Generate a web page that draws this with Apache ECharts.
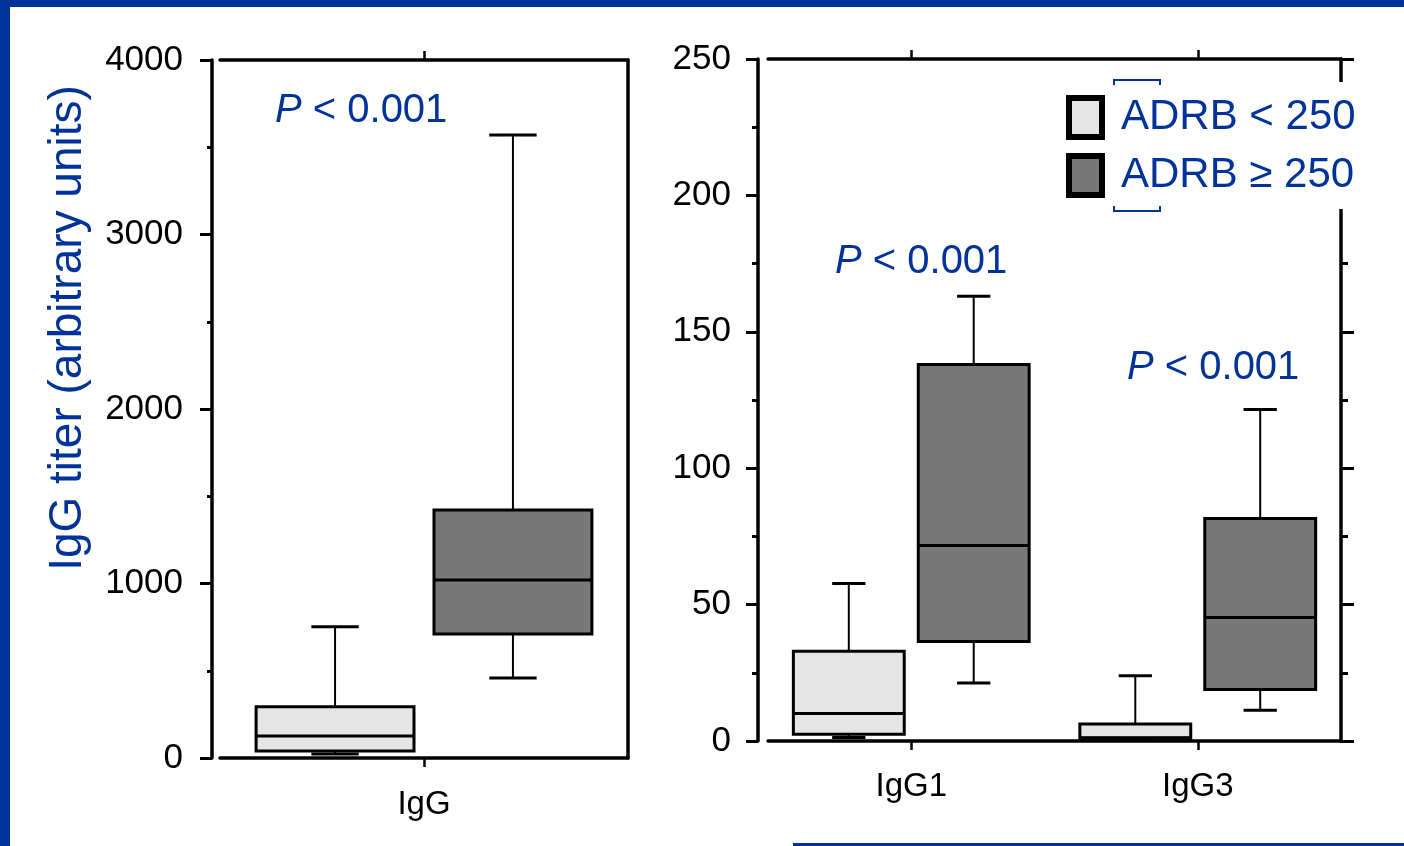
<!DOCTYPE html>
<html>
<head>
<meta charset="utf-8">
<script src="https://cdn.jsdelivr.net/npm/echarts@6/dist/echarts.min.js"></script>
<style>
  html, body { margin: 0; padding: 0; background: #fff; }
  #chart { width: 1404px; height: 846px; }
</style>
</head>
<body>
<div id="chart"></div>
<script>
// categories
const leftCategories = ['IgG']
const rightCategories = ['IgG1', 'IgG3']
const legendNames = ['ADRB < 250', 'ADRB ≥ 250']

// box values: [min, Q1, median, Q3, max]
const iggLow = [[23, 40, 126, 294, 752]]
const iggHigh = [[458, 711, 1020, 1421, 3570]]
const subclassLow = [[1.3, 2.5, 10.1, 32.9, 57.7], [0.5, 1.0, 1.2, 6.2, 23.9]]
const subclassHigh = [[21.3, 36.5, 71.7, 138, 163], [11.3, 18.9, 45.3, 81.6, 121.5]]

// y axis ranges
const leftY = { min: 0, max: 4000, interval: 1000 }
const rightY = { min: 0, max: 250, interval: 50 }

const BLUE = '#003399'
const LIGHT = '#e5e5e5'
const DARK = '#787878'
const SANS = "'Liberation Sans', Arial, sans-serif"

function toData(rows) {
  return rows.map((r, i) => [i].concat(r))
}

// draws whiskers, caps, box and median for one group member
function boxRenderer(shift) {
  return function (params, api) {
    const idx = api.value(0)
    const band = api.size([1, 0])[0]
    const boxW = band * 0.387
    const capW = boxW * 0.3
    const cx = api.coord([idx, 0])[0] + shift * band
    const ys = [1, 2, 3, 4, 5].map(k => api.coord([idx, api.value(k)])[1])
    const [yMin, yQ1, yMed, yQ3, yMax] = ys
    const line = (x1, y1, x2, y2, w) => ({
      type: 'line',
      shape: { x1, y1, x2, y2 },
      style: { stroke: '#000', lineWidth: w }
    })
    return {
      type: 'group',
      children: [
        line(cx, yQ3, cx, yMax, 2),
        line(cx - capW / 2, yMax, cx + capW / 2, yMax, 3),
        line(cx, yQ1, cx, yMin, 2),
        line(cx - capW / 2, yMin, cx + capW / 2, yMin, 3),
        {
          type: 'rect',
          shape: { x: cx - boxW / 2, y: yQ3, width: boxW, height: yQ1 - yQ3 },
          style: { fill: api.visual('color'), stroke: '#000', lineWidth: 3 }
        },
        line(cx - boxW / 2, yMed, cx + boxW / 2, yMed, 3)
      ]
    }
  }
}

const axisLine = { show: true, onZero: false, lineStyle: { color: '#000', width: 3.5 } }
const plainNumber = v => String(v)

function bottomAxis(grid, cats, margin) {
  return {
    type: 'category', gridIndex: grid, data: cats, position: 'bottom',
    axisLine: axisLine,
    axisTick: { show: true, alignWithLabel: true, length: 9, lineStyle: { color: '#000', width: 2.5 } },
    axisLabel: { color: '#000', fontFamily: SANS, fontSize: 33, margin: margin },
    splitLine: { show: false }
  }
}
function topAxis(grid, cats) {
  return {
    type: 'category', gridIndex: grid, data: cats, position: 'top',
    axisLine: axisLine,
    axisTick: { show: true, alignWithLabel: true, length: 9, lineStyle: { color: '#000', width: 2.5 } },
    axisLabel: { show: false },
    splitLine: { show: false }
  }
}

const pText = (x, y) => ({
  type: 'text', x: x, y: y,
  style: {
    text: '{p|P} < 0.001', fill: BLUE, font: '40px ' + SANS, textVerticalAlign: 'middle',
    rich: { p: { fontStyle: 'italic', fontSize: 40, fontFamily: SANS, fill: BLUE } }
  }
})

const option = {
  animation: false,
  backgroundColor: '#fff',
  grid: [
    { left: 220, right: 1404 - 628, top: 60, bottom: 846 - 758 },
    { left: 768, right: 1404 - 1341, top: 59, bottom: 846 - 741 }
  ],
  xAxis: [
    bottomAxis(0, leftCategories, 30),
    topAxis(0, leftCategories),
    bottomAxis(1, rightCategories, 29),
    topAxis(1, rightCategories)
  ],
  yAxis: [
    {
      type: 'value', gridIndex: 0, position: 'left', offset: 8,
      min: leftY.min, max: leftY.max, interval: leftY.interval,
      axisLine: axisLine,
      axisTick: { show: true, length: 12, lineStyle: { color: '#000', width: 3 } },
      minorTick: { show: true, splitNumber: 2, length: 5, lineStyle: { color: '#000', width: 3 } },
      axisLabel: { color: '#000', fontFamily: SANS, fontSize: 35, margin: 29, padding: [8, 0, 0, 0], formatter: plainNumber },
      splitLine: { show: false }
    },
    {
      type: 'value', gridIndex: 0, position: 'right',
      min: leftY.min, max: leftY.max, interval: leftY.interval,
      axisLine: axisLine, axisTick: { show: false }, axisLabel: { show: false },
      splitLine: { show: false }
    },
    {
      type: 'value', gridIndex: 1, position: 'left', offset: 10,
      min: rightY.min, max: rightY.max, interval: rightY.interval,
      axisLine: axisLine,
      axisTick: { show: true, length: 12, lineStyle: { color: '#000', width: 3 } },
      minorTick: { show: true, splitNumber: 2, length: 6, lineStyle: { color: '#000', width: 3 } },
      axisLabel: { color: '#000', fontFamily: SANS, fontSize: 35, margin: 27, padding: [8, 0, 0, 0], formatter: plainNumber },
      splitLine: { show: false }
    },
    {
      type: 'value', gridIndex: 1, position: 'right',
      min: rightY.min, max: rightY.max, interval: rightY.interval,
      axisLine: axisLine,
      axisTick: { show: true, length: 13, lineStyle: { color: '#000', width: 3 } },
      minorTick: { show: true, splitNumber: 2, length: 7, lineStyle: { color: '#000', width: 3 } },
      axisLabel: { show: false },
      splitLine: { show: false }
    }
  ],
  legend: {
    left: 1061, top: 82,
    orient: 'vertical',
    padding: [13, 20, 11, 5],
    backgroundColor: '#fff',
    z: 10,
    selectedMode: false,
    icon: 'rect',
    itemWidth: 33, itemHeight: 39, itemGap: 13,
    textStyle: { color: BLUE, fontFamily: SANS, fontSize: 42, padding: [4, 0, 0, 14] },
    data: [
      { name: legendNames[0], itemStyle: { color: LIGHT, borderColor: '#000', borderWidth: 6 } },
      { name: legendNames[1], itemStyle: { color: DARK, borderColor: '#000', borderWidth: 6 } }
    ]
  },
  graphic: [
    // slide frame
    { type: 'rect', shape: { x: 0, y: 0, width: 1404, height: 7 }, style: { fill: BLUE }, z: 20 },
    { type: 'rect', shape: { x: 0, y: 0, width: 10, height: 846 }, style: { fill: BLUE }, z: 20 },
    { type: 'rect', shape: { x: 793, y: 843, width: 611, height: 3 }, style: { fill: BLUE }, z: 20 },
    // text-box corner marks around the legend
    { type: 'polyline', shape: { points: [[1114, 85], [1114, 80], [1160, 80], [1160, 85]] }, style: { stroke: BLUE, lineWidth: 2, fill: null }, z: 20 },
    { type: 'polyline', shape: { points: [[1114, 206], [1114, 211], [1160, 211], [1160, 206]] }, style: { stroke: BLUE, lineWidth: 2, fill: null }, z: 20 },
    // y axis title
    {
      type: 'text', x: 68, y: 328, rotation: Math.PI / 2,
      style: { text: 'IgG titer (arbitrary units)', fill: BLUE, font: '46px ' + SANS, textAlign: 'center', textVerticalAlign: 'middle' }
    },
    // p values
    pText(275, 111),
    pText(835, 262),
    pText(1127, 368)
  ],
  series: [
    {
      name: legendNames[0], type: 'custom', xAxisIndex: 0, yAxisIndex: 0,
      itemStyle: { color: LIGHT }, encode: { x: 0, y: [1, 2, 3, 4, 5] },
      renderItem: boxRenderer(-0.218), data: toData(iggLow)
    },
    {
      name: legendNames[1], type: 'custom', xAxisIndex: 0, yAxisIndex: 0,
      itemStyle: { color: DARK }, encode: { x: 0, y: [1, 2, 3, 4, 5] },
      renderItem: boxRenderer(0.218), data: toData(iggHigh)
    },
    {
      name: legendNames[0], type: 'custom', xAxisIndex: 2, yAxisIndex: 2,
      itemStyle: { color: LIGHT }, encode: { x: 0, y: [1, 2, 3, 4, 5] },
      renderItem: boxRenderer(-0.218), data: toData(subclassLow)
    },
    {
      name: legendNames[1], type: 'custom', xAxisIndex: 2, yAxisIndex: 2,
      itemStyle: { color: DARK }, encode: { x: 0, y: [1, 2, 3, 4, 5] },
      renderItem: boxRenderer(0.218), data: toData(subclassHigh)
    }
  ]
}

const myChart = echarts.init(document.getElementById('chart'), null, { renderer: 'canvas' })
myChart.setOption(option)
</script>
</body>
</html>
